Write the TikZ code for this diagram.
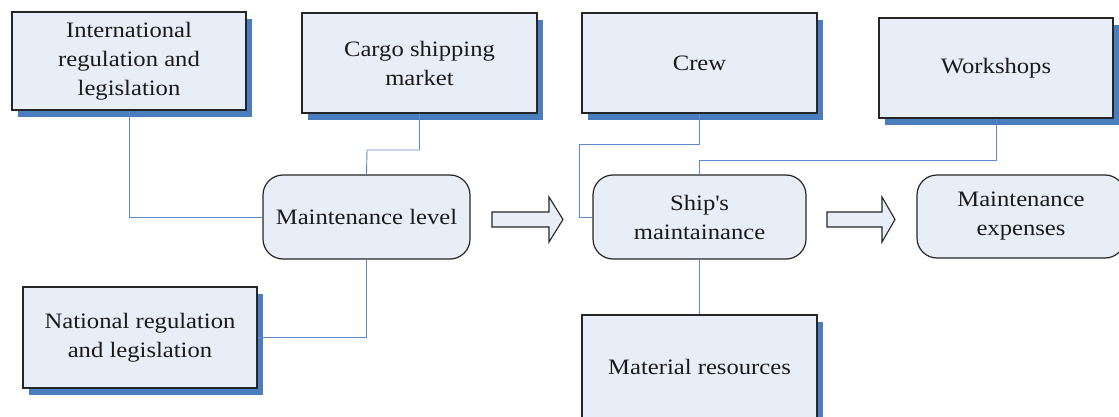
\documentclass[tikz,border=0pt]{standalone}
\usepackage{fontspec}
\setmainfont[FakeStretch=1.12]{Liberation Serif}
\usetikzlibrary{shadows}
\definecolor{boxfill}{HTML}{E8EEF7}
\definecolor{boxline}{HTML}{262626}
\definecolor{shadowblue}{HTML}{4A7DBE}
\definecolor{linkblue}{HTML}{5B8AD0}
\definecolor{txt}{HTML}{1A1A1A}
\tikzset{
  base/.style={draw=boxline, fill=boxfill, line width=1.2pt, align=center, inner sep=0pt,
    text=txt, font=\fontsize{22}{29}\selectfont},
  sqbox/.style={base, rectangle, drop shadow={shadow xshift=6pt, shadow yshift=-7pt, fill=shadowblue, opacity=1, draw=none}},
  rbox/.style={base, rectangle, rounded corners=20pt},
  link/.style={draw=linkblue, line width=0.9pt},
  blockarrow/.style={draw=boxline, fill=boxfill, line width=1.1pt}
}
\begin{document}
\begin{tikzpicture}[x=1pt,y=-1pt]
\clip (0,0) rectangle (1119,417);
\fill[white] (0,0) rectangle (1119,417);
% square boxes
\node[sqbox, minimum width=234pt, minimum height=98pt] (intl) at (129,61) {International\\regulation and\\legislation};
\node[sqbox, minimum width=235pt, minimum height=100pt] (cargo) at (419.5,63) {Cargo shipping\\market};
\node[sqbox, minimum width=235pt, minimum height=100pt] (crew) at (699.5,63) {Crew};
\node[sqbox, minimum width=234pt, minimum height=100pt] (work) at (996,68) {Workshops};
\node[sqbox, minimum width=234pt, minimum height=101pt] (natl) at (140,337.5) {National regulation\\and legislation};
\node[sqbox, minimum width=235pt, minimum height=104pt] (mat) at (699.5,367) {Material resources};
% rounded boxes
\node[rbox, minimum width=207pt, minimum height=84pt] (mlevel) at (366.5,217) {Maintenance level};
\node[rbox, minimum width=213pt, minimum height=84pt] (ship) at (699.5,217) {Ship\textquotesingle s\\maintainance};
\node[rbox, minimum width=208pt, minimum height=83pt] (exp) at (1021,216.5) {Maintenance\\expenses};
% connectors
\coordinate (cg) at (367,150);
\coordinate (cw) at (579,144);
\coordinate (wk) at (699.5,160);
\draw[link] (intl.south) |- (mlevel.west);
\draw[link] (cargo.south) |- (cg) -- (mlevel.north);
\draw[link] (mlevel.south) |- (natl.east);
\draw[link] (crew.south) |- (cw) |- (ship.west);
\draw[link] (work.south) |- (wk) -- (ship.north);
\draw[link] (ship.south) -- (mat.north);
% block arrows
\coordinate (a1) at (492,219.5);
\coordinate (a2) at (827,219.5);
\draw[blockarrow] (a1) ++(0,-7.5) -- ++(57,0) -- ++(0,-15) -- ++(14,22.5) -- ++(-14,22.5) -- ++(0,-15) -- ++(-57,0) -- cycle;
\draw[blockarrow] (a2) ++(0,-7.5) -- ++(55,0) -- ++(0,-15) -- ++(13,22.5) -- ++(-13,22.5) -- ++(0,-15) -- ++(-55,0) -- cycle;
\end{tikzpicture}
\end{document}
